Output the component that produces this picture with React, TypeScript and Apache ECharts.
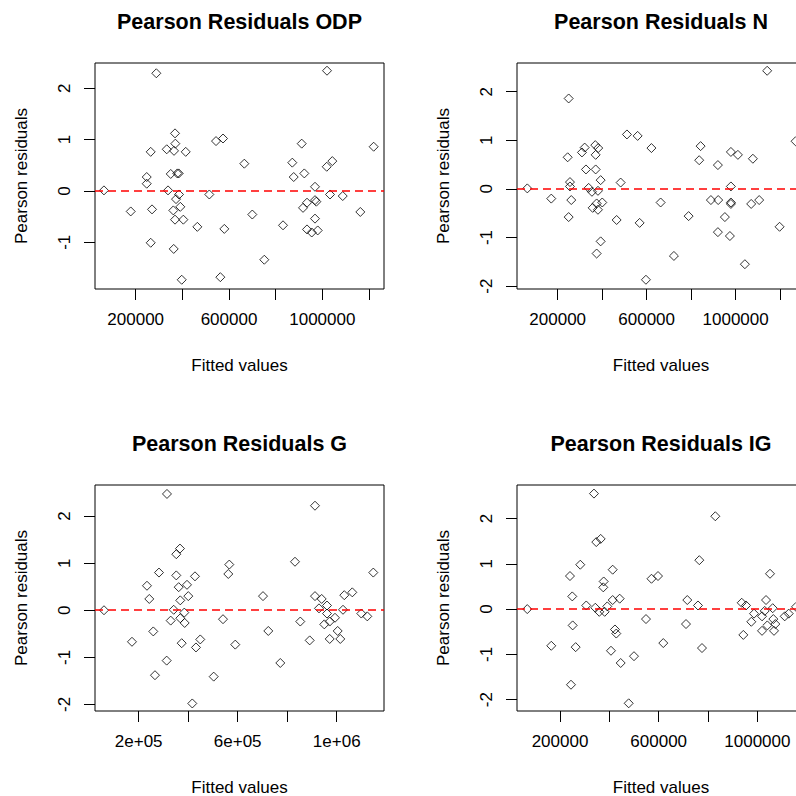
import React, { useEffect, useRef } from "react";
import * as echarts from "echarts";

// ---------- data ----------
const odpFitted = [64000, 288400, 368600, 369900, 333000, 364300, 264400, 414500, 544300, 574300, 350200, 378500, 384400, 247300, 247300, 338600, 385700, 372900, 515600, 178700, 270000, 361300, 391300, 368600, 404200, 464200, 579900, 264400, 363000, 397300, 562800, 1020000, 665600, 911600, 1220000, 871300, 877300, 922800, 1018800, 1042800, 968600, 1032900, 1087400, 934300, 968600, 974200, 917200, 699900, 1162800, 968600, 831500, 934300, 954500, 980200, 751300];
const odpResid = [0.01, 2.29, 1.12, 0.92, 0.81, 0.78, 0.76, 0.76, 0.97, 1.02, 0.33, 0.34, 0.34, 0.27, 0.14, 0.01, -0.07, -0.16, -0.07, -0.40, -0.36, -0.38, -0.31, -0.56, -0.56, -0.70, -0.74, -1.01, -1.13, -1.73, -1.68, 2.34, 0.53, 0.92, 0.86, 0.55, 0.27, 0.34, 0.47, 0.58, 0.08, -0.07, -0.10, -0.23, -0.18, -0.21, -0.33, -0.46, -0.41, -0.54, -0.67, -0.75, -0.81, -0.77, -1.34];

const nFitted = [63400, 249400, 321300, 309200, 369000, 382400, 370800, 244900, 327200, 370800, 511400, 559500, 621500, 255300, 255300, 339300, 393200, 483100, 381100, 354100, 171200, 261100, 375200, 400400, 357300, 381100, 249400, 465100, 568500, 393200, 375200, 596800, 1141900, 842600, 836300, 920400, 978800, 1010300, 1077700, 1269600, 978800, 662900, 888900, 921700, 978800, 978800, 1070000, 1106000, 788700, 951800, 920400, 974300, 1197700, 722600, 1041700];
const nResid = [0.01, 1.86, 0.85, 0.75, 0.90, 0.84, 0.70, 0.65, 0.40, 0.40, 1.12, 1.09, 0.84, 0.14, 0.05, 0.02, 0.18, 0.13, -0.04, -0.06, -0.20, -0.23, -0.30, -0.28, -0.39, -0.43, -0.58, -0.64, -0.70, -1.08, -1.33, -1.87, 2.43, 0.88, 0.59, 0.49, 0.76, 0.70, 0.62, 0.98, 0.05, -0.28, -0.23, -0.23, -0.28, -0.31, -0.31, -0.23, -0.56, -0.58, -0.89, -0.97, -0.78, -1.38, -1.55];

const gFitted = [59800, 314300, 366800, 351900, 282000, 351900, 427400, 566000, 562000, 233500, 361600, 395100, 242800, 368000, 400400, 341400, 384200, 329300, 368000, 385800, 540600, 259000, 172900, 373700, 448800, 431500, 590200, 313100, 265800, 503000, 416500, 912200, 831400, 1147800, 702200, 912200, 939300, 960700, 928400, 1030600, 1062900, 1025400, 960700, 993000, 971600, 949800, 1099300, 1123500, 852800, 723600, 1003900, 890800, 971600, 1014400, 772000];
const gResid = [0.00, 2.47, 1.31, 1.19, 0.80, 0.74, 0.72, 0.97, 0.77, 0.52, 0.49, 0.54, 0.24, 0.21, 0.30, 0.01, -0.05, -0.22, -0.17, -0.27, -0.19, -0.45, -0.67, -0.70, -0.62, -0.79, -0.73, -1.07, -1.38, -1.41, -1.98, 2.22, 1.03, 0.80, 0.30, 0.30, 0.24, 0.10, 0.04, 0.32, 0.38, 0.01, -0.07, -0.16, -0.24, -0.30, -0.07, -0.13, -0.24, -0.44, -0.44, -0.64, -0.61, -0.61, -1.12];

const igFitted = [67300, 337700, 347000, 364900, 282200, 240400, 413500, 377000, 375400, 570800, 249700, 306500, 343000, 359200, 381100, 391600, 413500, 441900, 548500, 251300, 422800, 428100, 164600, 263500, 406600, 445900, 499900, 244500, 478400, 597200, 829500, 764600, 1051200, 715900, 759300, 936500, 953900, 1035000, 1062100, 1029700, 986400, 1018800, 1064600, 1110800, 1127000, 1156600, 975400, 1040300, 1072700, 1018800, 1067400, 710700, 943000, 618600, 775500];
const igResid = [0.00, 2.55, 1.48, 1.55, 0.98, 0.73, 0.87, 0.61, 0.48, 0.67, 0.28, 0.08, 0.03, -0.06, -0.06, 0.06, 0.20, 0.23, -0.22, -0.36, -0.45, -0.54, -0.81, -0.84, -0.92, -1.19, -1.04, -1.67, -2.08, 0.73, 2.05, 1.08, 0.78, 0.20, 0.08, 0.14, 0.08, 0.20, 0.02, -0.04, -0.10, -0.16, -0.22, -0.16, -0.10, 0.05, -0.28, -0.36, -0.33, -0.48, -0.48, -0.33, -0.57, -0.75, -0.86];

const panelTitles = ["Pearson Residuals ODP", "Pearson Residuals N", "Pearson Residuals G", "Pearson Residuals IG"];
const xAxisTitle = "Fitted values";
const yAxisTitle = "Pearson residuals";

const xTickValues = [200000, 400000, 600000, 800000, 1000000, 1200000];
const xLabelValues = [200000, 600000, 1000000];
const yTickValuesODP = [-1, 0, 1, 2];
const yTickValues = [-2, -1, 0, 1, 2];

// axis extents (R's 4% padding)
const xMins = [25600, 17100, 23500, 25700];
const xMaxs = [1264300, 1312000, 1191000, 1193000];
const yMins = [-1.91, -2.06, -2.14, -2.25];
const yMaxs = [2.49, 2.59, 2.66, 2.74];

// ---------- layout ----------
const FONT = '"Liberation Sans", Arial, Helvetica, sans-serif';
const boxes = [
  { left: 95, top: 63, width: 289, height: 226 },
  { left: 517, top: 63, width: 288, height: 226 },
  { left: 95, top: 485, width: 289, height: 226 },
  { left: 517, top: 485, width: 288, height: 226 },
];

function plainLabel(v: number) {
  return String(Math.round(v));
}
function sciLabel(v: number) {
  const s = v.toExponential(0);
  const [m, e] = s.split("e");
  const sign = e[0];
  const digits = e.slice(1).padStart(2, "0");
  return `${m}e${sign}${digits}`;
}

const fittedSets = [odpFitted, nFitted, gFitted, igFitted];
const residSets = [odpResid, nResid, gResid, igResid];
const yTickSets = [yTickValuesODP, yTickValues, yTickValues, yTickValues];
const labelFormatters = [plainLabel, plainLabel, sciLabel, plainLabel];

function textEl(text: string, x: number, y: number, font: string, rotation = 0) {
  return {
    type: "text",
    x,
    y,
    rotation,
    silent: true,
    style: {
      text,
      font,
      fill: "#000",
      align: "center",
      verticalAlign: "middle",
      textAlign: "center",
      textVerticalAlign: "middle",
    },
  };
}

export default function App() {
  const ref = useRef<HTMLDivElement>(null);

  useEffect(() => {
    if (!ref.current) return;
    const chart = echarts.init(ref.current, null, { renderer: "svg" });

    const grids = boxes.map((b) => ({
      left: b.left,
      top: b.top,
      width: b.width,
      height: b.height,
      show: true,
      borderColor: "#000",
      borderWidth: 1,
      backgroundColor: "transparent",
      containLabel: false,
      outerBoundsMode: "none",
    }));

    const xAxes = boxes.map((_, i) => ({
      type: "value",
      gridIndex: i,
      position: "bottom",
      min: xMins[i],
      max: xMaxs[i],
      axisLine: { show: false, onZero: false },
      splitLine: { show: false },
      axisTick: {
        show: true,
        inside: false,
        length: 11,
        customValues: xTickValues.filter((v) => v >= xMins[i] && v <= xMaxs[i]),
        lineStyle: { color: "#000", width: 1 },
      },
      axisLabel: {
        show: true,
        customValues: xLabelValues,
        formatter: (v: number) => labelFormatters[i](v),
        margin: 22,
        fontSize: 17,
        fontFamily: FONT,
        color: "#000",
      },
    }));

    const yAxes = boxes.map((_, i) => ({
      type: "value",
      gridIndex: i,
      position: "left",
      min: yMins[i],
      max: yMaxs[i],
      axisLine: { show: false, onZero: false },
      splitLine: { show: false },
      axisTick: {
        show: true,
        inside: false,
        length: 11,
        customValues: yTickSets[i],
        lineStyle: { color: "#000", width: 1 },
      },
      axisLabel: {
        show: true,
        customValues: yTickSets[i],
        formatter: (v: number) => String(v),
        rotate: 90,
        margin: 22,
        fontSize: 17,
        fontFamily: FONT,
        color: "#000",
      },
    }));

    const series = boxes.map((_, i) => ({
      type: "scatter",
      xAxisIndex: i,
      yAxisIndex: i,
      symbol: "diamond",
      symbolSize: 9,
      itemStyle: { color: "rgba(0,0,0,0)", borderColor: "#000", borderWidth: 1 },
      emphasis: { disabled: true },
      data: fittedSets[i].map((x, k) => [x, residSets[i][k]]),
      markLine: {
        silent: true,
        symbol: ["none", "none"],
        label: { show: false },
        emphasis: { disabled: true },
        lineStyle: { color: "#ff0000", type: [8, 5], width: 1.5 },
        data: [{ yAxis: 0 }],
      },
    }));

    const graphics: any[] = [];
    boxes.forEach((b, i) => {
      const cx = b.left + b.width / 2;
      const cy = b.top + b.height / 2;
      graphics.push(textEl(panelTitles[i], cx, b.top - 41.5, `bold 21.5px ${FONT}`));
      graphics.push(textEl(xAxisTitle, cx, b.top + b.height + 76.5, `17px ${FONT}`));
      graphics.push(textEl(yAxisTitle, b.left - 74, cy, `17px ${FONT}`, Math.PI / 2));
    });

    chart.setOption({
      animation: false,
      backgroundColor: "#fff",
      textStyle: { fontFamily: FONT },
      grid: grids,
      xAxis: xAxes,
      yAxis: yAxes,
      series,
      graphic: { elements: graphics },
    } as any);

    return () => chart.dispose();
  }, []);

  return (
    <div
      ref={ref}
      style={{ position: "fixed", left: 0, top: 0, width: 796, height: 796, background: "#fff" }}
    />
  );
}
